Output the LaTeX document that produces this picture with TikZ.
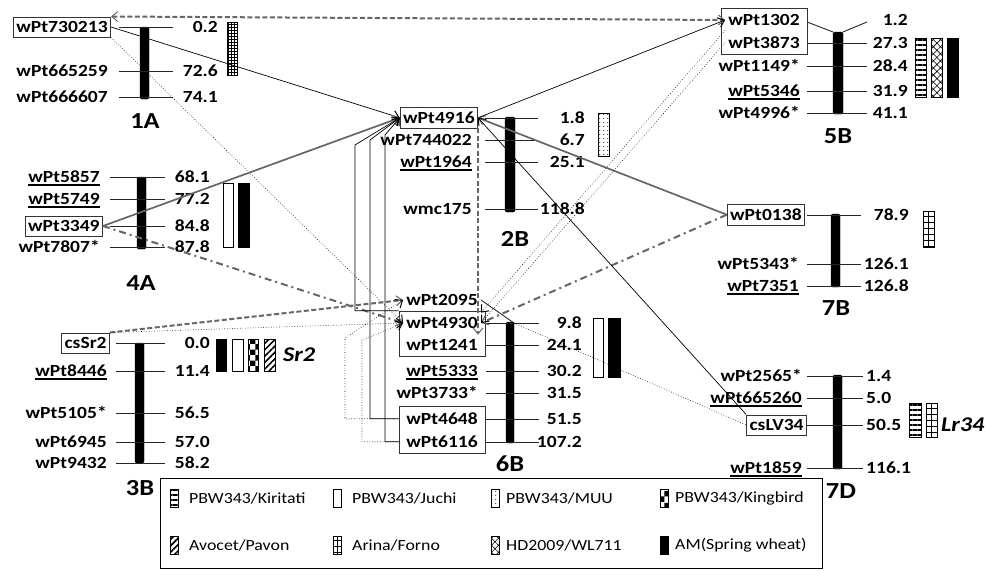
\documentclass[tikz,border=0pt]{standalone}
\usepackage{fontspec}
\setmainfont{Carlito}[FakeStretch=1.15]
\usetikzlibrary{arrows.meta, patterns, patterns.meta, fit}
\newcommand\mkfont{\fontsize{17}{20}\selectfont\bfseries}
\newcommand\chrfont{\fontsize{23}{26}\selectfont\bfseries}
\newcommand\genefont{\fontsize{21}{24}\selectfont\bfseries\itshape}
\newcommand\lgfont{\fontsize{15.5}{18}\selectfont}
\newcommand\mkul[1]{\setbox0\hbox{#1}\rlap{\rule[-3pt]{\wd0}{1.6pt}}\box0}
% ladder-like bar used for Arina/Forno
\newcommand\arinabar[4]{%
  \draw[arina] (#1,#2) rectangle (#3,#4);
  \draw[pbar] ({(#1+#3)/2},#2) -- ({(#1+#3)/2},#4);}

\begin{document}
\begin{tikzpicture}[x=1pt, y=-1pt,
    chr/.style={fill=black, draw=black, rounded corners=1.5pt},
    tick/.style={draw=black!85, line width=0.9pt},
    mk/.style={font=\mkfont, anchor=base east, yshift=-5.5pt,
               inner xsep=3pt, inner ysep=4.5pt},
    mkbox/.style={mk, draw=black!80, line width=0.7pt},
    num/.style={font=\mkfont, anchor=base east, yshift=-5.5pt, inner sep=0pt},
    chrname/.style={font=\chrfont},
    gene/.style={font=\genefont, anchor=west, inner sep=0pt},
    grp/.style={draw=black!80, line width=0.7pt, inner xsep=4pt, inner ysep=1.5pt},
    pbar/.style={draw=black, line width=0.5pt},
    kiri/.style={pbar, pattern={Lines[angle=0, distance=5pt, line width=2.4pt]}},
    juchi/.style={pbar, fill=white},
    muu/.style={pbar, pattern={Dots[distance=4pt, radius=0.6pt]}},
    king/.style={pbar, pattern=checkerboard},
    avo/.style={pbar, pattern={Lines[angle=45, distance=4.5pt, line width=1.6pt]}},
    arina/.style={pbar, pattern={Lines[angle=0, distance=6pt, line width=0.6pt]}},
    hd/.style={pbar, pattern={Hatch[angle=45, distance=5pt, line width=0.6pt]}},
    am/.style={pbar, fill=black},
    gridbar/.style={pbar, pattern=grid},
    lg/.style={font=\lgfont, anchor=west, inner sep=0pt},
    thinlink/.style={draw=black, line width=0.7pt},
    dotlink/.style={draw=black, line width=0.6pt, dotted},
    graylink/.style={draw=black!60, line width=1.7pt},
    graydash/.style={draw=black!60, line width=2pt, dash pattern=on 5pt off 2.5pt},
    graydashdot/.style={draw=black!60, line width=2pt,
                        dash pattern=on 7pt off 4pt on 2pt off 4pt},
    arr/.style={-{Straight Barb[length=6pt, width=10pt, line width=1pt]}},
    dblarr/.style={{Straight Barb[length=6pt, width=10pt, line width=1pt]}-{Straight Barb[length=6pt, width=10pt, line width=1pt]}},
  ]
  \useasboundingbox (0,0) rectangle (987,570);

  % ---- 1A ----
  \draw[chr] (140,27) rectangle (149,99);
  \foreach \y in {27,71,97} \draw[tick] (119,\y) -- (173,\y);
  \node[mkbox] (wPt730213) at (111,27) {wPt730213};
  \foreach \y/\t in {71/wPt665259, 97/wPt666607} \node[mk] (\t) at (111,\y) {\t};
  \foreach \y/\v [count=\i] in {27/0.2, 71/72.6, 97/74.1}
    \node[num] (n1A-\i) at (218,\y) {\v};
  \draw[gridbar] (227,22) rectangle (237,75);
  \node[chrname] (c1A) at (145,121) {1A};

  % ---- 4A ----
  \draw[chr] (137,177) rectangle (146,249);
  \foreach \y in {177,199,226,247} \draw[tick] (110,\y) -- (165,\y);
  \node[mk] (wPt5857) at (103,177) {\mkul{wPt5857}};
  \node[mk] (wPt5749) at (103,199) {\mkul{wPt5749}};
  \node[mkbox] (wPt3349) at (103,226) {wPt3349};
  \node[mk] (wPt7807) at (103,247) {wPt7807*};
  \foreach \y/\v [count=\i] in {177/68.1, 199/77.2, 226/84.8, 247/87.8}
    \node[num] (n4A-\i) at (210,\y) {\v};
  \draw[juchi] (223,183) rectangle (233,247);
  \draw[am] (238,183) rectangle (249,247);
  \node[chrname] (c4A) at (141,283) {4A};

  % ---- 3B ----
  \draw[chr] (135,343) rectangle (144,463);
  \foreach \y in {343,371,413,442,463} \draw[tick] (116,\y) -- (165,\y);
  \node[mkbox] (csSr2) at (110,343) {csSr2};
  \node[mk] (wPt8446) at (110,371) {\mkul{wPt8446}};
  \node[mk] (wPt5105) at (110,413) {wPt5105*};
  \foreach \y/\t in {442/wPt6945, 463/wPt9432}
    \node[mk] (\t) at (110,\y) {\t};
  \foreach \y/\v [count=\i] in {343/0.0, 371/11.4, 413/56.5, 442/57.0, 463/58.2}
    \node[num] (n3B-\i) at (210,\y) {\v};
  \draw[am] (216,339) rectangle (226,371);
  \draw[juchi] (232,339) rectangle (243,371);
  \draw[king] (248,339) rectangle (258,371);
  \draw[avo] (264,339) rectangle (275,371);
  \node[gene] (gSr2) at (283,355) {Sr2};
  \node[chrname] (c3B) at (140,488) {3B};

  % ---- 2B ----
  \draw[chr] (505,117) rectangle (515,212);
  \foreach \y in {118,140,162,209} \draw[tick] (485,\y) -- (538,\y);
  \node[mkbox] (wPt4916) at (478,118) {wPt4916};
  \node[mk] (wPt744022) at (475,140) {wPt744022};
  \node[mk] (wPt1964) at (475,162) {\mkul{wPt1964}};
  \node[mk] (wmc175) at (475,209) {wmc175};
  \foreach \y/\v [count=\i] in {118/1.8, 140/6.7, 162/25.1, 209/118.8}
    \node[num] (n2B-\i) at (585,\y) {\v};
  \draw[muu] (598,113) rectangle (609,156);
  \node[chrname] (c2B) at (515,239) {2B};

  % ---- 6B ----
  \draw[chr] (506,322) rectangle (514,443);
  \foreach \y in {323,345,371,393,419,442} \draw[tick] (486,\y) -- (539,\y);
  \node[mk] (wPt2095) at (481,300) {wPt2095};
  \node[mk] (wPt4930) at (481,323) {wPt4930};
  \node[mk] (wPt1241) at (481,345) {wPt1241};
  \node[mk] (wPt5333) at (481,371) {\mkul{wPt5333}};
  \node[mk] (wPt3733) at (481,393) {wPt3733*};
  \node[mk] (wPt4648) at (481,419) {wPt4648};
  \node[mk] (wPt6116) at (481,442) {wPt6116};
  \node[grp, fit=(wPt4930)(wPt1241)] (box6Ba) {};
  \node[grp, fit=(wPt4648)(wPt6116)] (box6Bb) {};
  \foreach \y/\v [count=\i] in {323/9.8, 345/24.1, 371/30.2, 393/31.5, 419/51.5, 442/107.2}
    \node[num] (n6B-\i) at (582,\y) {\v};
  \draw[juchi] (593,318) rectangle (603,377);
  \draw[am] (608,318) rectangle (620,377);
  \coordinate (top6B) at (514,323);
  \draw[thinlink] (wPt2095.east) -- (top6B);
  \node[chrname] (c6B) at (510,464) {6B};

  % ---- 5B ----
  \draw[chr] (833,32) rectangle (843,114);
  \draw[tick] (807,22) -- (833,32);
  \draw[tick] (843,32) -- (867,22);
  \foreach \y in {43,66,91,113} \draw[tick] (807,\y) -- (867,\y);
  \node[mk] (wPt1302) at (803,20) {wPt1302};
  \node[mk] (wPt3873) at (803,43) {wPt3873};
  \node[mk] (wPt1149) at (803,66) {wPt1149*};
  \node[mk] (wPt5346) at (803,91) {\mkul{wPt5346}};
  \node[mk] (wPt4996) at (803,113) {wPt4996*};
  \node[grp, fit=(wPt1302)(wPt3873)] (box5B) {};
  \foreach \y/\v [count=\i] in {20/1.2, 43/27.3, 66/28.4, 91/31.9, 113/41.1}
    \node[num] (n5B-\i) at (908,\y) {\v};
  \draw[kiri] (915,38) rectangle (926,97);
  \draw[hd] (931,38) rectangle (942,97);
  \draw[am] (947,38) rectangle (958,97);
  \node[chrname] (c5B) at (838,136) {5B};

  % ---- 7B ----
  \draw[chr] (831,214) rectangle (840,287);
  \foreach \y in {215,264,286} \draw[tick] (807,\y) -- (861,\y);
  \node[mkbox] (wPt0138) at (805,215) {wPt0138};
  \node[mk] (wPt5343) at (802,264) {wPt5343*};
  \node[mk] (wPt7351) at (802,286) {\mkul{wPt7351}};
  \foreach \y/\v [count=\i] in {215/78.9, 264/126.1, 286/126.8}
    \node[num] (n7B-\i) at (909,\y) {\v};
  \arinabar{923}{211}{934}{247}
  \node[chrname] (c7B) at (836,308) {7B};

  % ---- 7D ----
  \draw[chr] (833,375) rectangle (842,469);
  \foreach \y in {376,398,425,468} \draw[tick] (807,\y) -- (863,\y);
  \node[mk] (wPt2565) at (805,376) {wPt2565*};
  \node[mk] (wPt665260) at (805,398) {\mkul{wPt665260}};
  \node[mkbox] (csLV34) at (807,425) {csLV34};
  \node[mk] (wPt1859) at (805,468) {\mkul{wPt1859}};
  \foreach \y/\v [count=\i] in {376/1.4, 398/5.0, 425/50.5, 468/116.1}
    \node[num, anchor=base west] (n7D-\i) at (866,\y) {\v};
  \draw[kiri] (909,403) rectangle (921,437);
  \arinabar{926}{403}{937}{437}
  \node[gene] (gLr34) at (941,425) {Lr34};
  \node[chrname] (c7D) at (841,491) {7D};

  % ---- connectors ----
  \draw[graydash, dblarr] (wPt730213.north east) -- (wPt1302.west);
  \draw[thinlink, arr] (wPt730213.east) -- (wPt4916.west);
  \draw[dotlink, arr] (wPt730213.south east) -- (wPt4930.west);
  \draw[graylink, arr] (wPt3349.east) -- (wPt4916.west);
  \draw[graydashdot, arr] (wPt3349.east) -- (wPt4930.west);
  \draw[graydash, arr] (csSr2.north east) -- (wPt2095.west);
  \draw[dotlink, arr] (csSr2.north east) -- (wPt4930.west);
  \draw[graylink, arr] (wPt0138.west) -- (wPt4916.east);
  \draw[graydashdot, arr] (wPt0138.west) -- (wPt4930.east);
  \draw[thinlink, arr] (wPt4916.east) -- (wPt1302.west);
  \draw[thinlink, arr] (csLV34.north west) -- (wPt4916.east);
  \draw[dotlink, arr] (wPt1302.south west) -- (wPt4930.north east);
  \draw[dotlink, arr] (wPt3873.west) -- (wPt4930.east);
  \draw[dotlink] (top6B) -- (csLV34.west);
  \draw[graydash, line width=1.2pt, arr] (wPt4916.south east) -- (wPt4916.south east |- wPt1241.north);
  \coordinate (bendA) at (355,145);
  \coordinate (bendB) at (370,140);
  \coordinate (bendC) at (385,135);
  \coordinate (bendD) at (345,338);
  \coordinate (bendE) at (362,340);
  \draw[thinlink, arr] (box6Ba.north west) -| (bendA) -- (wPt4916.west);
  \draw[thinlink, arr] (box6Bb.west |- wPt4648) -| (bendB) -- (wPt4916.west);
  \draw[thinlink, arr] (box6Bb.west |- wPt6116) -| (bendC) -- (wPt4916.west);
  \draw[dotlink, arr] (box6Bb.west |- wPt4648) -| (bendD) -- (wPt2095.west);
  \draw[dotlink, arr] (box6Bb.west |- wPt6116) -| (bendE) -- (wPt4930.west);

  % ---- legend ----
  \draw[line width=0.7pt] (160,478) rectangle (822,568);
  \draw[kiri] (170,489) rectangle (178,507);
  \node[lg] (lg1) at (189,498) {PBW343/Kiritati};
  \draw[juchi] (333,489) rectangle (341,507);
  \node[lg] (lg2) at (352,498) {PBW343/Juchi};
  \draw[muu] (491,489) rectangle (499,507);
  \node[lg] (lg3) at (506,498) {PBW343/MUU};
  \draw[king] (660,489) rectangle (668,507);
  \node[lg] (lg4) at (675,498) {PBW343/Kingbird};
  \draw[avo] (170,536) rectangle (178,554);
  \node[lg] (lg5) at (189,545) {Avocet/Pavon};
  \arinabar{333}{536}{341}{554}
  \node[lg] (lg6) at (352,545) {Arina/Forno};
  \draw[hd] (491,536) rectangle (499,554);
  \node[lg] (lg7) at (506,545) {HD2009/WL711};
  \draw[am] (660,536) rectangle (668,554);
  \node[lg] (lg8) at (675,545) {AM(Spring wheat)};
\end{tikzpicture}
\end{document}
